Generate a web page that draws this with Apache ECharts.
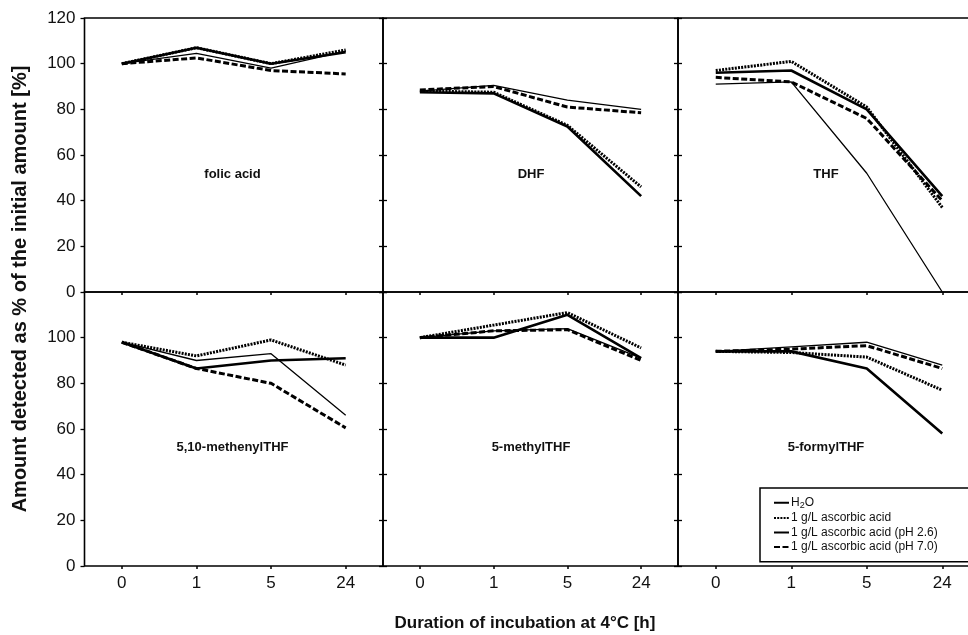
<!DOCTYPE html>
<html>
<head>
<meta charset="utf-8">
<script src="https://cdn.jsdelivr.net/npm/echarts@6/dist/echarts.min.js"></script>
<style>
html,body{margin:0;padding:0;background:#fff;overflow:hidden;width:968px;height:635px;}
#chart{width:1000px;height:635px;}
</style>
</head>
<body>
<div id="chart"></div>
<script>
// ---- data ----
const categories = ['0', '1', '5', '24'];
const panelNames = ['folic acid', 'DHF', 'THF', '5,10-methenylTHF', '5-methylTHF', '5-formylTHF'];
const seriesNames = ['H2O', '1 g/L ascorbic acid', '1 g/L ascorbic acid (pH 2.6)', '1 g/L ascorbic acid (pH 7.0)'];
const yTicks = [0, 20, 40, 60, 80, 100, 120];

// values per panel (order as panelNames), per time point (order as categories)
const h2o = [
  [100, 104.5, 98, 105.5],
  [88, 90.5, 84, 80],
  [91, 92, 52, 0],
  [98, 90, 93, 66],
  [100, 103, 104, 91],
  [94, 96, 98, 88]
];
const ascorbic = [
  [100, 107, 100, 106],
  [88, 87.5, 73, 46],
  [97, 101, 81, 37],
  [98, 92, 99, 88],
  [100, 105.5, 111, 95.5],
  [94, 93.5, 91.5, 77]
];
const ascorbicPH26 = [
  [100, 107, 100, 105],
  [87.5, 87, 72.5, 42],
  [96, 97, 80, 42],
  [98, 86.5, 90, 91],
  [100, 100, 110, 91],
  [94, 94, 86.5, 58]
];
const ascorbicPH70 = [
  [100, 102.5, 97, 95.5],
  [88.5, 90, 81, 78.5],
  [94, 92, 76, 40],
  [98, 86.5, 80, 60.5],
  [100, 103, 103.5, 90],
  [94, 95, 96.5, 86.5]
];

// ---- layout / style ----
const FONT = '"Liberation Sans", Arial, sans-serif';
const lefts = [84.5, 383, 678];
const widths = [298.5, 295, 302];
const tops = [18, 292];
const H = 274;

const seriesData = [h2o, ascorbic, ascorbicPH26, ascorbicPH70];
const lineStyles = [
  { color: '#000', width: 1.3, type: 'solid' },
  { color: '#000', width: 3, type: [2, 1.2] },
  { color: '#000', width: 2.6, type: 'solid' },
  { color: '#000', width: 3, type: [6, 2.5] }
];
const zs = [6, 5, 3, 4];

const grid = [], xAxis = [], yAxis = [], series = [], graphic = [];
for (let p = 0; p < 6; p++) {
  const row = Math.floor(p / 3), col = p % 3;
  grid.push({
    left: lefts[col], top: tops[row], width: widths[col], height: H,
    show: true, borderColor: '#000', borderWidth: 1.6, containLabel: false
  });
  xAxis.push({
    type: 'category', gridIndex: p, data: categories, boundaryGap: true,
    axisLine: { show: false },
    axisTick: { show: true, alignWithLabel: true, inside: false, length: 3, lineStyle: { color: '#000', width: 1.5 } },
    axisLabel: { show: row === 1, color: '#111', fontSize: 17, fontFamily: FONT, margin: 9 },
    splitLine: { show: false }
  });
  yAxis.push({
    type: 'value', gridIndex: p, min: 0, max: 120, interval: 20,
    axisLine: { show: false },
    axisTick: { show: true, inside: col !== 0, length: 4, lineStyle: { color: '#000', width: 1.3 } },
    axisLabel: { show: col === 0, color: '#111', fontSize: 17, fontFamily: FONT, margin: 9, showMaxLabel: row === 0 },
    splitLine: { show: false }
  });
  yAxis.push({
    type: 'value', gridIndex: p, min: 0, max: 120, interval: 20, position: 'right',
    axisLine: { show: false },
    axisTick: { show: col !== 2, inside: true, length: 4, lineStyle: { color: '#000', width: 1.3 } },
    axisLabel: { show: false },
    splitLine: { show: false }
  });
  for (let s = 0; s < 4; s++) {
    series.push({
      type: 'line', name: seriesNames[s], xAxisIndex: p, yAxisIndex: 2 * p,
      data: seriesData[s][p], symbol: 'none', z: zs[s],
      lineStyle: lineStyles[s], itemStyle: { color: '#000' },
      emphasis: { disabled: true }, animation: false
    });
  }
  graphic.push({
    type: 'text',
    x: lefts[col] + 148, y: row === 0 ? 174 : 447,
    style: { text: panelNames[p], fill: '#111', fontSize: 13, fontWeight: 'bold', fontFamily: FONT, align: 'center', verticalAlign: 'middle' }
  });
}

graphic.push({
  type: 'text', x: 20, y: 289, rotation: Math.PI / 2,
  style: { text: 'Amount detected as % of the initial amount [%]', fill: '#111', fontSize: 20, fontWeight: 'bold', fontFamily: FONT, align: 'center', verticalAlign: 'middle' }
});
graphic.push({
  type: 'text', x: 525, y: 623,
  style: { text: 'Duration of incubation at 4°C [h]', fill: '#111', fontSize: 17, fontWeight: 'bold', fontFamily: FONT, align: 'center', verticalAlign: 'middle' }
});

const option = {
  backgroundColor: '#fff',
  animation: false,
  grid, xAxis, yAxis, series, graphic,
  legend: {
    data: seriesNames,
    orient: 'vertical',
    left: 760, top: 488,
    padding: [8, 60, 8, 13],
    itemWidth: 15, itemHeight: 8, itemGap: 1,
    backgroundColor: '#fff',
    borderColor: '#000', borderWidth: 1.5, borderRadius: 0,
    selectedMode: false,
    itemStyle: { color: 'rgba(0,0,0,0)', borderWidth: 0, opacity: 0 },
    formatter: function (name) { return name === 'H2O' ? 'H{sub|2}O' : name; },
    textStyle: {
      color: '#111', fontSize: 12, fontFamily: FONT, lineHeight: 13.5, padding: [0, 0, 0, -3],
      rich: { sub: { fontSize: 9, fontFamily: FONT, padding: [6, 0, 0, 0] } }
    }
  }
};
const chart = echarts.init(document.getElementById('chart'), null, { renderer: 'canvas' });
chart.setOption(option);
</script>
</body>
</html>
